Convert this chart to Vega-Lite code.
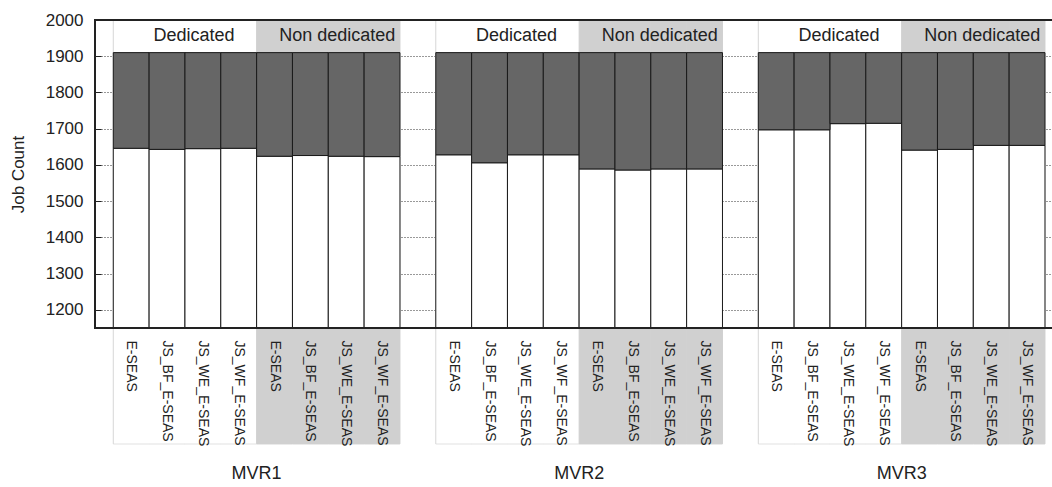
{
  "$schema": "https://vega.github.io/schema/vega-lite/v6.json",
  "autosize": "none",
  "padding": {"left": 95, "top": 20, "right": 0, "bottom": 159},
  "width": 960,
  "height": 308,
  "background": "white",
  "config": {
    "font": "Liberation Sans",
    "numberFormat": "d",
    "view": {"stroke": "#222222", "strokeWidth": 2},
    "axisY": {
      "values": [1200, 1300, 1400, 1500, 1600, 1700, 1800, 1900, 2000],
      "labelOverlap": false,
      "grid": true,
      "gridDash": [1, 2],
      "gridColor": "#333333",
      "gridWidth": 1,
      "domain": false,
      "ticks": true,
      "tickSize": -6,
      "tickColor": "#222222",
      "tickWidth": 1,
      "labelFontSize": 17,
      "labelPadding": 18,
      "labelColor": "#222222",
      "labelFlush": false,
      "titleFontSize": 17,
      "titleFontWeight": "normal",
      "titleColor": "#222222",
      "titlePadding": 18
    }
  },
  "data": {
    "values": [
      {"group": "MVR1", "mode": "Dedicated", "method": "E-SEAS", "value": 1646, "total": 1910},
      {"group": "MVR1", "mode": "Dedicated", "method": "JS_BF_E-SEAS", "value": 1643, "total": 1910},
      {"group": "MVR1", "mode": "Dedicated", "method": "JS_WE_E-SEAS", "value": 1645, "total": 1910},
      {"group": "MVR1", "mode": "Dedicated", "method": "JS_WF_E-SEAS", "value": 1646, "total": 1910},
      {"group": "MVR1", "mode": "Non dedicated", "method": "E-SEAS", "value": 1624, "total": 1910},
      {"group": "MVR1", "mode": "Non dedicated", "method": "JS_BF_E-SEAS", "value": 1626, "total": 1910},
      {"group": "MVR1", "mode": "Non dedicated", "method": "JS_WE_E-SEAS", "value": 1624, "total": 1910},
      {"group": "MVR1", "mode": "Non dedicated", "method": "JS_WF_E-SEAS", "value": 1623, "total": 1910},
      {"group": "MVR2", "mode": "Dedicated", "method": "E-SEAS", "value": 1628, "total": 1910},
      {"group": "MVR2", "mode": "Dedicated", "method": "JS_BF_E-SEAS", "value": 1606, "total": 1910},
      {"group": "MVR2", "mode": "Dedicated", "method": "JS_WE_E-SEAS", "value": 1628, "total": 1910},
      {"group": "MVR2", "mode": "Dedicated", "method": "JS_WF_E-SEAS", "value": 1628, "total": 1910},
      {"group": "MVR2", "mode": "Non dedicated", "method": "E-SEAS", "value": 1589, "total": 1910},
      {"group": "MVR2", "mode": "Non dedicated", "method": "JS_BF_E-SEAS", "value": 1586, "total": 1910},
      {"group": "MVR2", "mode": "Non dedicated", "method": "JS_WE_E-SEAS", "value": 1589, "total": 1910},
      {"group": "MVR2", "mode": "Non dedicated", "method": "JS_WF_E-SEAS", "value": 1589, "total": 1910},
      {"group": "MVR3", "mode": "Dedicated", "method": "E-SEAS", "value": 1697, "total": 1910},
      {"group": "MVR3", "mode": "Dedicated", "method": "JS_BF_E-SEAS", "value": 1697, "total": 1910},
      {"group": "MVR3", "mode": "Dedicated", "method": "JS_WE_E-SEAS", "value": 1714, "total": 1910},
      {"group": "MVR3", "mode": "Dedicated", "method": "JS_WF_E-SEAS", "value": 1715, "total": 1910},
      {"group": "MVR3", "mode": "Non dedicated", "method": "E-SEAS", "value": 1641, "total": 1910},
      {"group": "MVR3", "mode": "Non dedicated", "method": "JS_BF_E-SEAS", "value": 1643, "total": 1910},
      {"group": "MVR3", "mode": "Non dedicated", "method": "JS_WE_E-SEAS", "value": 1654, "total": 1910},
      {"group": "MVR3", "mode": "Non dedicated", "method": "JS_WF_E-SEAS", "value": 1654, "total": 1910}
    ]
  },
  "transform": [
    {"calculate": "datum.group + '|' + datum.mode + '|' + datum.method", "as": "key"}
  ],
  "layer": [
    {
      "mark": {"type": "rect", "strokeWidth": 1},
      "encoding": {
        "x": {
          "field": "key",
          "type": "nominal",
          "sort": null,
          "title": null,
          "scale": {
            "domain": [
              "MVR1|Dedicated|E-SEAS", "MVR1|Dedicated|JS_BF_E-SEAS", "MVR1|Dedicated|JS_WE_E-SEAS", "MVR1|Dedicated|JS_WF_E-SEAS",
              "MVR1|Non dedicated|E-SEAS", "MVR1|Non dedicated|JS_BF_E-SEAS", "MVR1|Non dedicated|JS_WE_E-SEAS", "MVR1|Non dedicated|JS_WF_E-SEAS",
              "gap1",
              "MVR2|Dedicated|E-SEAS", "MVR2|Dedicated|JS_BF_E-SEAS", "MVR2|Dedicated|JS_WE_E-SEAS", "MVR2|Dedicated|JS_WF_E-SEAS",
              "MVR2|Non dedicated|E-SEAS", "MVR2|Non dedicated|JS_BF_E-SEAS", "MVR2|Non dedicated|JS_WE_E-SEAS", "MVR2|Non dedicated|JS_WF_E-SEAS",
              "gap2",
              "MVR3|Dedicated|E-SEAS", "MVR3|Dedicated|JS_BF_E-SEAS", "MVR3|Dedicated|JS_WE_E-SEAS", "MVR3|Dedicated|JS_WF_E-SEAS",
              "MVR3|Non dedicated|E-SEAS", "MVR3|Non dedicated|JS_BF_E-SEAS", "MVR3|Non dedicated|JS_WE_E-SEAS", "MVR3|Non dedicated|JS_WF_E-SEAS"
            ],
            "paddingInner": 0,
            "paddingOuter": 0.395,
            "align": 0.646
          },
          "axis": {
            "labelExpr": "indexof(datum.value, '|') > 0 ? split(datum.value, '|')[2] : ''",
            "labelAngle": 90,
            "labelAlign": "left",
            "labelBaseline": "middle",
            "labelPadding": 12,
            "labelFontSize": 14,
            "labelColor": "#222222",
            "labelOverlap": false,
            "labelBound": false,
            "labelFlush": false,
            "ticks": false,
            "domain": false,
            "grid": false,
            "zindex": 2
          }
        },
        "y": {
          "field": "total",
          "type": "quantitative",
          "title": "Job Count",
          "scale": {"domain": [1150, 2000], "nice": false, "zero": false}
        },
        "y2": {"datum": 2000},
        "fill": {"condition": {"test": "datum.mode == 'Dedicated'", "value": "#ffffff"}, "value": "#d0d0d0"},
        "stroke": {"condition": {"test": "datum.mode == 'Dedicated'", "value": "#ffffff"}, "value": "#d0d0d0"}
      }
    },
    {
      "mark": {"type": "rect", "strokeWidth": 1, "clip": false},
      "encoding": {
        "x": {"field": "key", "type": "nominal", "title": null},
        "y": {"field": "total", "type": "quantitative", "title": "Job Count"},
        "y2": {"datum": 830},
        "fill": {"condition": {"test": "datum.mode == 'Dedicated'", "value": "#ffffff"}, "value": "#d0d0d0"},
        "stroke": {"condition": {"test": "datum.mode == 'Dedicated'", "value": "#ffffff"}, "value": "#d0d0d0"}
      }
    },
    {
      "transform": [{"filter": "datum.mode == 'Dedicated' && datum.method == 'E-SEAS'"}],
      "mark": {"type": "rule", "color": "#d6d6d6", "strokeWidth": 1, "clip": false},
      "encoding": {
        "x": {"field": "key", "type": "nominal", "bandPosition": 0, "title": null},
        "y": {"datum": 2000, "type": "quantitative", "title": "Job Count"},
        "y2": {"datum": 830}
      }
    },
    {
      "transform": [{"filter": "datum.mode == 'Dedicated'"}],
      "mark": {"type": "tick", "orient": "horizontal", "color": "#d6d6d6", "thickness": 1, "size": 36, "clip": false},
      "encoding": {
        "x": {"field": "key", "type": "nominal", "title": null},
        "y": {"datum": 830, "type": "quantitative", "title": "Job Count"}
      }
    },
    {
      "mark": {"type": "rect", "fill": "#ffffff", "stroke": "#1a1a1a", "strokeWidth": 1},
      "encoding": {
        "x": {"field": "key", "type": "nominal", "title": null},
        "y": {"field": "value", "type": "quantitative", "title": "Job Count"},
        "y2": {"datum": 1150}
      }
    },
    {
      "mark": {"type": "rect", "fill": "#666666", "stroke": "#1a1a1a", "strokeWidth": 1},
      "encoding": {
        "x": {"field": "key", "type": "nominal", "title": null},
        "y": {"field": "value", "type": "quantitative", "title": "Job Count"},
        "y2": {"field": "total"}
      }
    },
    {
      "data": {"values": [{"edge": 2000}, {"edge": 1150}]},
      "mark": {"type": "rule", "color": "#222222", "strokeWidth": 2},
      "encoding": {
        "y": {"field": "edge", "type": "quantitative", "title": "Job Count"}
      }
    },
    {
      "transform": [{"filter": "datum.method == 'JS_BF_E-SEAS'"}],
      "mark": {"type": "text", "fontSize": 18, "color": "#222222", "align": "center", "baseline": "middle", "dx": 9},
      "encoding": {
        "x": {"field": "key", "type": "nominal", "bandPosition": 1, "title": null},
        "y": {"datum": 1956, "type": "quantitative", "title": "Job Count"},
        "text": {"field": "mode"}
      }
    },
    {
      "transform": [{"filter": "datum.mode == 'Dedicated' && datum.method == 'JS_WF_E-SEAS'"}],
      "mark": {"type": "text", "fontSize": 18, "color": "#222222", "align": "center", "baseline": "middle", "clip": false},
      "encoding": {
        "x": {"field": "key", "type": "nominal", "bandPosition": 1, "title": null},
        "y": {"datum": 748, "type": "quantitative", "title": "Job Count"},
        "text": {"field": "group"}
      }
    }
  ]
}
